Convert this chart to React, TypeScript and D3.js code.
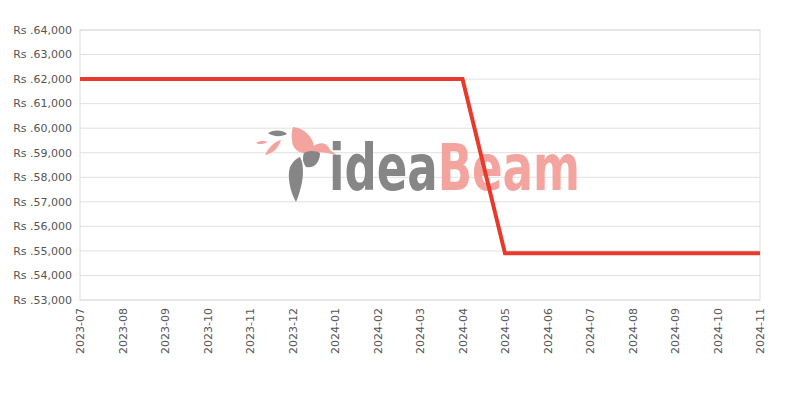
import React from "react";
import * as d3 from "d3";

const months = ["2023-07","2023-08","2023-09","2023-10","2023-11","2023-12","2024-01","2024-02","2024-03","2024-04","2024-05","2024-06","2024-07","2024-08","2024-09","2024-10","2024-11"];
const prices = [62000,62000,62000,62000,62000,62000,62000,62000,62000,62000,54900,54900,54900,54900,54900,54900,54900];
const yTicks = [53000,54000,55000,56000,57000,58000,59000,60000,61000,62000,63000,64000];

const W = 800, H = 400;
const L = 80, R = 760, T = 30, B = 300;

export default function App() {
  const x = d3.scalePoint<string>().domain(months).range([L, R]);
  const y = d3.scaleLinear().domain([53000, 64000]).range([B, T]);
  const line = d3.line<number>().x((_, i) => x(months[i])!).y(d => y(d));
  const fmt = (v: number) => "Rs ." + d3.format(",")(v);
  return (
    <svg width={W} height={H} style={{ position: "absolute", left: 0, top: 0, fontFamily: "DejaVu Sans" }}>
      <rect x={0} y={0} width={W} height={H} fill="#fff" />
      {yTicks.map(t => (
        <g key={t}>
          <line x1={L} x2={R} y1={y(t)} y2={y(t)} stroke="#e0e0e0" strokeWidth={1} />
          <text x={L - 8} y={y(t)} dy="0.35em" textAnchor="end" fontSize={11} fill="#555">{fmt(t)}</text>
        </g>
      ))}
      <rect x={L} y={T} width={R - L} height={B - T} fill="none" stroke="#dcdcdc" strokeWidth={1} />
      {months.map(m => (
        <text key={m} transform={`translate(${x(m)! + 4},${B + 8}) rotate(-90)`} textAnchor="end" fontSize={11} fill="#555">{m}</text>
      ))}
      {/* watermark logo */}
      <g opacity={0.95}>
        <path d="M268,133 C274,129 284,130 287,134 C282,137 273,137 268,133 Z" fill="#808080" />
        <path d="M256,143 C260,140 265,141 268,142 C264,144 259,145 256,143 Z" fill="#f4a09a" />
        <path d="M265,155 C268,148 275,141 281,140 C279,148 272,154 265,155 Z" fill="#f4a09a" />
        <path d="M293,127 C305,128 313,138 314,146 C320,141 328,143 330,150 L338,156 C328,152 320,152 312,152 C302,156 292,150 292,140 C291,135 292,130 293,127 Z" fill="#f4a09a" />
        <path d="M304,153 C310,150 317,151 320,153 C320,162 314,169 306,167 C303,163 302,158 304,153 Z" fill="#808080" />
        <path d="M300,157 C306,168 302,188 296,202 C290,192 287,176 290,167 C293,161 297,158 300,157 Z" fill="#808080" />
        <text x={329} y={190} fontSize={64} fontWeight="bold" fontFamily="DejaVu Sans Condensed" textLength={251} lengthAdjust="spacingAndGlyphs">
          <tspan fill="#808080">idea</tspan><tspan fill="#f4a09a">Beam</tspan>
        </text>
      </g>
      <path d={line(prices)!} fill="none" stroke="#e8392a" strokeWidth={4} />
    </svg>
  );
}
